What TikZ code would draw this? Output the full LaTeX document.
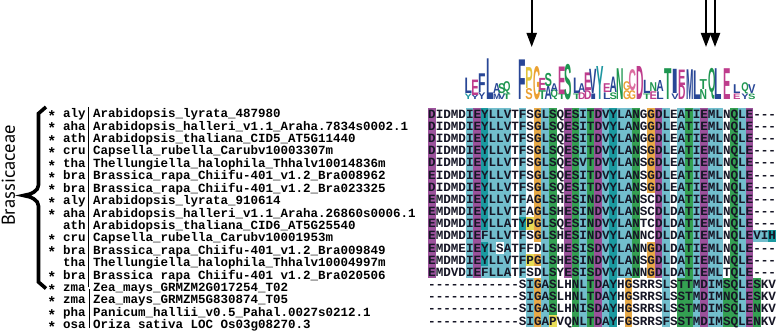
\documentclass[tikz,border=0pt]{standalone}
\usepackage{fontspec}
\usepackage{graphicx}
\usetikzlibrary{arrows.meta}
\newfontfamily\seqfont{Liberation Mono}
\newfontfamily\logofont{Liberation Sans}
\newfontfamily\famfont{PT Sans}

% residue shading (alignment)
\definecolor{clrp}{RGB}{155,82,155}
\definecolor{clrc}{RGB}{114,190,205}
\definecolor{clrt}{RGB}{26,154,160}
\definecolor{clrg}{RGB}{52,160,82}
\definecolor{clro}{RGB}{232,170,72}
\definecolor{clry}{RGB}{232,220,86}
% logo letters
\definecolor{lgblue}{RGB}{40,70,150}
\definecolor{lgmag}{RGB}{190,60,140}
\definecolor{lggreen}{RGB}{30,150,80}
\definecolor{lgorange}{RGB}{235,160,50}
\definecolor{lgyellow}{RGB}{225,195,60}
\definecolor{lgteal}{RGB}{30,150,160}
\definecolor{lgpink}{RGB}{220,110,160}

\tikzset{
  seqtext/.style={font=\seqfont\bfseries\fontsize{12.6}{12.6}\selectfont, inner sep=0, anchor=base west},
  nametext/.style={font=\seqfont\bfseries\fontsize{12.5}{12.5}\selectfont, inner sep=0, anchor=base west},
  astmark/.style={font=\seqfont\bfseries\fontsize{15}{15}\selectfont, inner sep=0, anchor=center},
  logoletter/.style={inner sep=0, anchor=south},
  famlabel/.style={font=\famfont\fontsize{18.6}{18.6}\selectfont, inner sep=0, rotate=90},
  sitearrow/.style={line width=2pt, -{Triangle[length=14pt,width=10pt]}},
  bracestroke/.style={line width=3.6pt, line join=miter},
  sepline/.style={line width=0.9pt},
}

% one shaded row: #1 = y of row centre, #2 = colour codes (x = no shading)
\newcount\cellno
\newcommand\paintrow[2]{\cellno=0 \def\rowy{#1}\expandafter\paintcell#2\relax}
\newcommand\paintcell[1]{%
  \ifx#1\relax\else
    \advance\cellno by 1
    \if#1x\else
      \fill[fill=clr#1] ({428+(\the\cellno-1)*7.56},{\rowy-6.12}) rectangle +(7.6,12.24);
    \fi
    \expandafter\paintcell
  \fi}

\begin{document}
\begin{tikzpicture}[x=1pt,y=-1pt]
\fill[white] (0,0) rectangle (778,334);
\useasboundingbox (0,0) rectangle (778,334);

% arrows over the logo
\coordinate (a1top) at (531.7,0);  \coordinate (a1tip) at (531.7,47);
\coordinate (a2top) at (706,0);    \coordinate (a2tip) at (706,47);
\coordinate (a3top) at (715,0);    \coordinate (a3tip) at (715,47);
\draw[sitearrow] (a1top) -- (a1tip);
\draw[sitearrow] (a2top) -- (a2tip);
\draw[sitearrow] (a3top) -- (a3tip);

% sequence logo (heights x 1.1)
\foreach \x/\l/\c/\h/\s/\sc/\sh [count=\i] in {
  468.3/L/lgblue/14/Y/lgteal/5, 475/E/lgmag/14/Y/lgblue/4,
  481.7/F/lgblue/17/Y/lgblue/6, 490/L/lgblue/37/-/-/0,
  496.7/A/lgblue/9/M/lgblue/5, 501.7/S/lggreen/9/V/lgblue/5,
  506.7/Q/lggreen/9/T/lggreen/5, 521.7/F/lgblue/36/-/-/0,
  529/P/lgyellow/19/S/lgorange/10, 536.7/G/lgorange/30/-/-/0,
  542.3/E/lgmag/11/T/lggreen/8, 548.3/S/lggreen/12/A/lgblue/12,
  554.3/A/lgblue/7/Q/lggreen/7, 561.7/E/lgmag/25/T/lggreen/5,
  568.3/S/lggreen/32/-/-/0, 576.7/L/lgblue/14/T/lggreen/5,
  581.7/A/lgblue/8/D/lgmag/6, 587.7/E/lgmag/16/D/lgmag/8,
  593.3/V/lgblue/22/I/lgblue/5, 600/Y/lgteal/30/-/-/0,
  606.7/E/lgmag/8/L/lgblue/6, 613.3/A/lgblue/14/S/lggreen/6,
  620/N/lggreen/28/-/-/0, 626.7/G/lgorange/8/G/lgorange/8,
  632.3/C/lgpink/19/G/lgorange/8, 640/D/lgmag/30/-/-/0,
  646.7/L/lgblue/12/T/lggreen/5, 653.3/N/lggreen/8/E/lgmag/7,
  660/A/lgblue/10/L/lgblue/7, 668.3/T/lggreen/28/-/-/0,
  675/I/lgblue/22/V/lgblue/5, 681.7/E/lgmag/14/D/lgmag/13,
  690/M/lgblue/27/-/-/0, 696.7/L/lgblue/26/-/-/0,
  703.3/T/lggreen/9/N/lggreen/9, 711.7/Q/lggreen/22/-/-/0,
  718.3/L/lgblue/28/-/-/0, 726.7/E/lgmag/28/-/-/0,
  736.7/L/lgblue/8/E/lgmag/5, 745/Q/lggreen/8/Y/lgblue/5,
  751.7/V/lgblue/8/S/lggreen/5}{
  \ifdim\sh pt>0pt
    \node[logoletter, text=\sc] (lgsub\i) at (\x,100) {\resizebox{7.4pt}{\dimexpr\sh pt*11/10\relax}{\logofont\bfseries \s}};
  \fi
  \node[logoletter, text=\c] (lg\i) at (\x,{100-1.1*\sh-0.3}) {\resizebox{7.4pt}{\dimexpr\h pt*11/10\relax}{\logofont\bfseries \l}};
}

% alignment shading
\foreach \codes [count=\r] in {
  pxxxxcptcccxcxocgxpgcgpctccgxopcxcgcpccxgcpxxx,
  pxxxxcptcccxcxocgxpgcgpctccgxopcxcgcpccxgcpxxx,
  pxxxxcptcccxcxocgxpgcgpctccgxopcxcgcpccxgcpxxx,
  pxxxxcptcccxcxocgxpgcgpctccgxopcxcgcpccxgcpxxx,
  pxxxxcptcccxcxocgxpgcgpctccgxopcxcgcpccxgcpxxx,
  pxxxxcptcccxcxocgxpgcgpctccgxopcxcgcpccxgcpxxx,
  pxxxxcptcccxcxocgxpgcgpctccgxopcxcgcpccxgcpxxx,
  pxxxxcptcccxcxocgxpgcgpctccgxxpcxcgcpccxgcpxxx,
  pxxxxcptcccxcxocgxpgcgpctccgxxpcxcgcpccxgcpxxx,
  pxxxxcptcccxtyocgxpgcgpctccgxxpcxcgcpccxgcpxxx,
  pxxxxcpccccxcxocgxpgcgpctccgxxpcxcgcpccxgcpcct,
  pxxxxcptcxcxcxxcgxpgcgpctccgxopcxcgcpccxgcpxxx,
  pxxxxcptcccxcyocgxpgcgpctccgxopcxcgcpccxgcpxxx,
  pxxxxcpccccxcxxcgxpgcgpctccgxopcxcgcpccxgcpxxx,
  xxxxxxxxxxxxxcocgxxgcgpctxoxxxxcxggcpccggcpgxx,
  xxxxxxxxxxxxxcocgxxgcgpctxoxxxxcxggcpccggcpgxx,
  xxxxxxxxxxxxxcocgxxgcgpctxoxxxxcxggcpccggcpgxx,
  xxxxxxxxxxxxxcocyxxgcgpctxoxxxxcxggcpccggcpgxx}{
  \pgfmathsetmacro\yy{114+(\r-1)*12.17}
  \paintrow{\yy}{\codes}
}

% alignment letters
\foreach \s [count=\r] in {
  DIDMDIEYLLVTFSGLSQESITDVYLANGGDLEATIEMLNQLE---,
  DIDMDIEYLLVTFSGLSQESITDVYLANGGDLEATIEMLNQLE---,
  DIDMDIEYLLVTFSGLSQESITDVYLANGGDLEATIEMLNQLE---,
  DIDMDIEYLLVTFSGLSQESITDVYLANSGDLEATIEMLNQLE---,
  DIDMDIEYLLVTFSGLSQESVTDVYLANSGDLEATIEMLNQLE---,
  EIDMDIEYLLVTFSGLSQESITDVYLANSGDLEATIEMLNQLE---,
  DIDMDIEYLLVTFSGLSQESITDVYLANSGDLEATIEMLNQLE---,
  EMDMDIEYLLVTFAGLSHESINDVYLANSCDLDATIEMLNQLE---,
  EMDMDIEYLLVTFAGLSHESINDVYLANSCDLDATIEMLNQLE---,
  EMDMDIEYLLATYPGLSQESINDVYLANTCDLDATIEMLNQLE---,
  EMDMDIEFLLVTFSGLSHESINDVYLANNCDLDATIEMLNQLEVIH,
  EMDMEIEYLSATFFDLSHESISDVYLANNGDLDATIEMLNQLE---,
  EMDMDIEYLLVTFPGLSHESINDVYLANSGDLDATIEMLNQLE---,
  EMDVDIEFLLATFSDLSYESISDVYLANNGDLDATIEMLTQLE---,
  ------------SIGASLHNLTDAYHGSRRSLSTTMDIMSQLESKV,
  ------------SIGASLHNLTDAYHGSRRSLSSTMDIMNQLESKV,
  ------------SIGASLHNISDAYHGSRRSLSSTMDIMSQLENKV,
  ------------SIGAPVQNLTDAYFGSRRSFSSTMDIMSQLENKV}{
  \node[seqtext, text={rgb,255:red,22;green,22;blue,38}] (seq\r) at (428,{114+(\r-1)*12.17+4.15}) {\s};
}

% species names
\foreach \st/\sp/\nm [count=\r] in {
  1/aly/Arabidopsis\_lyrata\_487980,
  1/aha/Arabidopsis\_halleri\_v1.1\_Araha.7834s0002.1,
  1/ath/Arabidopsis\_thaliana\_CID5\_AT5G11440,
  1/cru/Capsella\_rubella\_Carubv10003307m,
  1/tha/Thellungiella\_halophila\_Thhalv10014836m,
  1/bra/Brassica\_rapa\_Chiifu-401\_v1.2\_Bra008962,
  1/bra/Brassica\_rapa\_Chiifu-401\_v1.2\_Bra023325,
  1/aly/Arabidopsis\_lyrata\_910614,
  1/aha/Arabidopsis\_halleri\_v1.1\_Araha.26860s0006.1,
  0/ath/Arabidopsis\_thaliana\_CID6\_AT5G25540,
  1/cru/Capsella\_rubella\_Carubv10001953m,
  1/bra/Brassica\_rapa\_Chiifu-401\_v1.2\_Bra009849,
  0/tha/Thellungiella\_halophila\_Thhalv10004997m,
  1/bra/Brassica rapa Chiifu-401 v1.2\_Bra020506,
  1/zma/Zea\_mays\_GRMZM2G017254\_T02,
  1/zma/Zea\_mays\_GRMZM5G830874\_T05,
  1/pha/Panicum\_hallii\_v0.5\_Pahal.0027s0212.1,
  1/osa/Oriza sativa LOC Os03g08270.3}{
  \pgfmathsetmacro\yn{113.5+(\r-1)*12.42}
  \ifnum\st=1
    \node[astmark] (ast\r) at (52,{\yn+2.4}) {*};
  \fi
  \node[nametext] (sp\r) at (63,{\yn+4.15}) {\sp};
  \node[nametext] (nm\r) at (93,{\yn+4.15}) {\nm};
}

% separators between codes and names
\draw[sepline] (88.5,107) -- (88.5,287);
\draw[sepline] (89.5,289) -- (89.5,328);

% family brace
\draw[bracestroke] (46,107) -- (38.5,113.5) -- (38.5,185)
  .. controls (38.5,191) and (31,194.5) .. (23.5,195.5)
  .. controls (31,196.5) and (38.5,200) .. (38.5,206)
  -- (38.5,282) -- (46,288.5);
\node[famlabel] (fam) at (8.5,175.5) {Brassicaceae};
\end{tikzpicture}
\end{document}
